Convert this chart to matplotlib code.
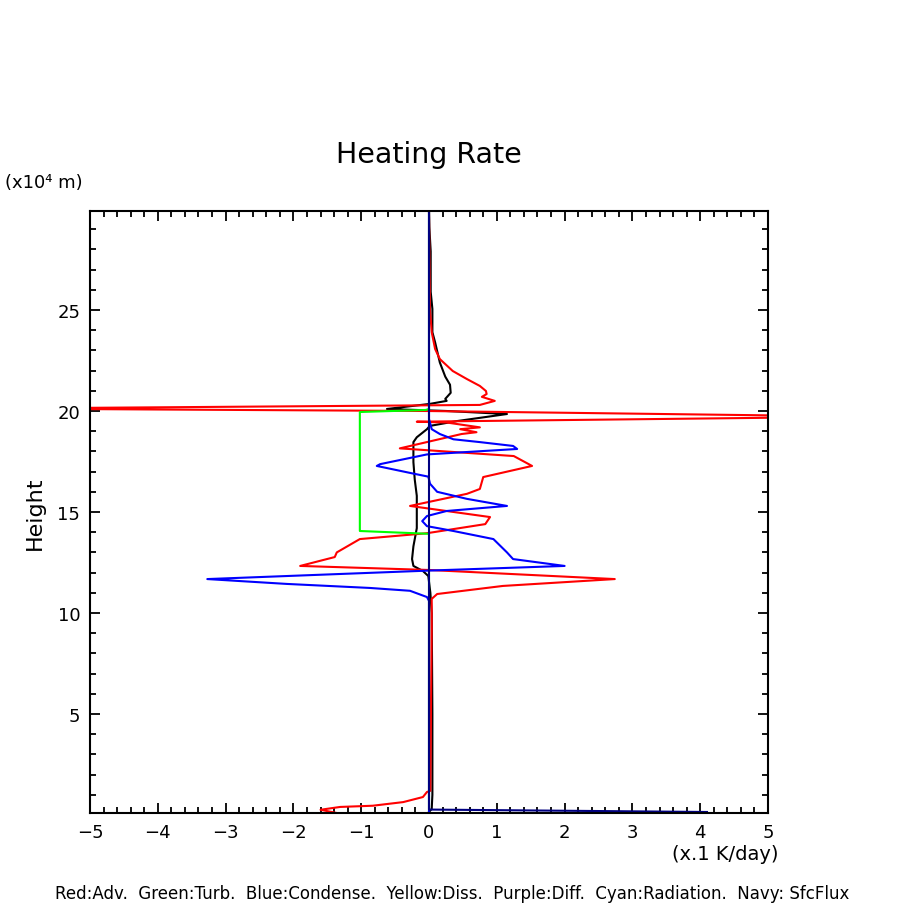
import matplotlib
matplotlib.use("Agg")
import matplotlib.pyplot as plt
from matplotlib.ticker import MultipleLocator

# heating-rate profiles, height in 10^4 m, rate in 0.1 K/day
adv_h = [29.9, 25.0, 23.9, 23.07, 22.57, 21.98, 21.58, 21.24, 20.99, 20.84, 20.7, 20.5, 20.3,
         20.12, 20.0, 19.72, 19.47, 19.43, 19.19, 19.1, 18.95, 18.86, 18.15, 17.77, 17.28,
         16.73, 16.14, 15.9, 15.3, 14.75, 14.4, 13.95, 13.66, 13.0, 12.77, 12.33, 12.13,
         11.68, 11.34, 10.94, 10.7, 9.2, 5.7, 1.2, 1.14, 0.89, 0.64, 0.46, 0.4, 0.26, 0.1]
adv_x = [0.0, 0.015, 0.04, 0.09, 0.16, 0.35, 0.56, 0.75, 0.84, 0.85, 0.78, 0.97, 0.75,
         -6.5, -0.05, 6.5, -0.18, 0.26, 0.75, 0.46, 0.70, 0.48, -0.43, 1.25, 1.52,
         0.8, 0.75, 0.56, -0.28, 0.9, 0.83, -0.03, -1.02, -1.36, -1.39, -1.9, 0.0,
         2.74, 1.09, 0.12, 0.04, 0.04, 0.03, 0.02, -0.03, -0.09, -0.38, -0.83, -1.31, -1.6, -1.36]

turb_h = [29.9, 20.1, 20.05, 19.95, 14.06, 13.92, 0.1]
turb_x = [0.0, 0.0, -0.05, -1.02, -1.02, 0.0, 0.0]

cond_h = [29.9, 19.6, 19.1, 18.86, 18.6, 18.46, 18.27, 18.12, 17.85, 17.37, 17.28, 16.9,
          16.75, 16.4, 16.0, 15.65, 15.3, 15.05, 14.8, 14.55, 14.3, 14.06, 13.66, 13.0,
          12.67, 12.33, 12.1, 11.68, 11.44, 11.24, 11.1, 10.79, 10.6, 0.1]
cond_x = [0.0, 0.0, 0.04, 0.16, 0.36, 0.75, 1.24, 1.3, -0.03, -0.72, -0.77, -0.23,
          -0.01, 0.015, 0.12, 0.56, 1.15, 0.26, -0.03, -0.1, -0.03, 0.36, 0.95, 1.15,
          1.24, 2.0, 0.0, -3.27, -2.1, -0.87, -0.28, -0.03, 0.0, 0.0]

total_h = [29.9, 29.1, 27.9, 25.9, 25.05, 23.9, 23.4, 22.4, 21.7, 21.3, 20.9, 20.6, 20.5,
           20.35, 20.1, 20.0, 19.85, 19.5, 19.26, 19.1, 18.7, 18.46, 17.47, 16.6, 15.8,
           15.0, 14.2, 13.3, 12.67, 12.33, 12.08, 11.83, 11.0, 10.0, 5.0, 1.0, 0.3, 0.15]
total_x = [0.0, 0.005, 0.025, 0.025, 0.05, 0.05, 0.09, 0.16, 0.24, 0.31, 0.32, 0.24, 0.26,
           0.01, -0.62, 0.26, 1.15, 0.41, 0.01, -0.03, -0.18, -0.23, -0.23, -0.21, -0.18,
           -0.18, -0.18, -0.23, -0.25, -0.23, -0.09, -0.01, 0.02, 0.04, 0.05, 0.05, 0.04, 0.0]

sfc_h = [29.9, 0.27, 0.15]
sfc_x = [0.0, 0.0, 4.1]

fig = plt.figure(figsize=(9.04, 9.04), dpi=100)
ax = fig.add_axes([90/904, 90/904, 678/904, 602/904])

lw = 1.5
ax.plot(total_x, total_h, color="black", lw=lw)
ax.plot(adv_x, adv_h, color="#ff0000", lw=lw)
ax.plot(turb_x, turb_h, color="#00ff00", lw=lw)
ax.plot(cond_x, cond_h, color="#0000ff", lw=lw)
ax.plot(sfc_x, sfc_h, color="#000080", lw=lw)

ax.set_xlim(-5, 5)
ax.set_ylim(0.1, 29.9)
ax.set_xticks(range(-5, 6))
ax.set_yticks([5, 10, 15, 20, 25])
ax.xaxis.set_minor_locator(MultipleLocator(0.2))
ax.yaxis.set_minor_locator(MultipleLocator(1))
ax.tick_params(which="both", direction="in", top=True, right=True, width=1.3, labelsize=13)
ax.tick_params(which="major", length=7.5)
ax.tick_params(which="minor", length=4)
ax.tick_params(axis="x", pad=7)
ax.tick_params(axis="y", pad=7)
for s in ax.spines.values():
    s.set_linewidth(1.5)

fig.text(429/904, 1 - 155/904, "Heating Rate", ha="center", va="center", fontsize=20.5)
fig.text(5/904, 1 - 183/904, "(x10⁴ m)", ha="left", va="center", fontsize=13)
fig.text(725/904, 1 - 855/904, "(x.1 K/day)", ha="center", va="center", fontsize=14)
fig.text(35/904, 1 - 513/904, "Height", ha="center", va="center", rotation=90, fontsize=16)
fig.text(452/904, 1 - 903/904,
         "Red:Adv.  Green:Turb.  Blue:Condense.  Yellow:Diss.  Purple:Diff.  Cyan:Radiation.  Navy: SfcFlux",
         ha="center", va="bottom", fontsize=12)

fig.savefig("out.png", dpi=100)
